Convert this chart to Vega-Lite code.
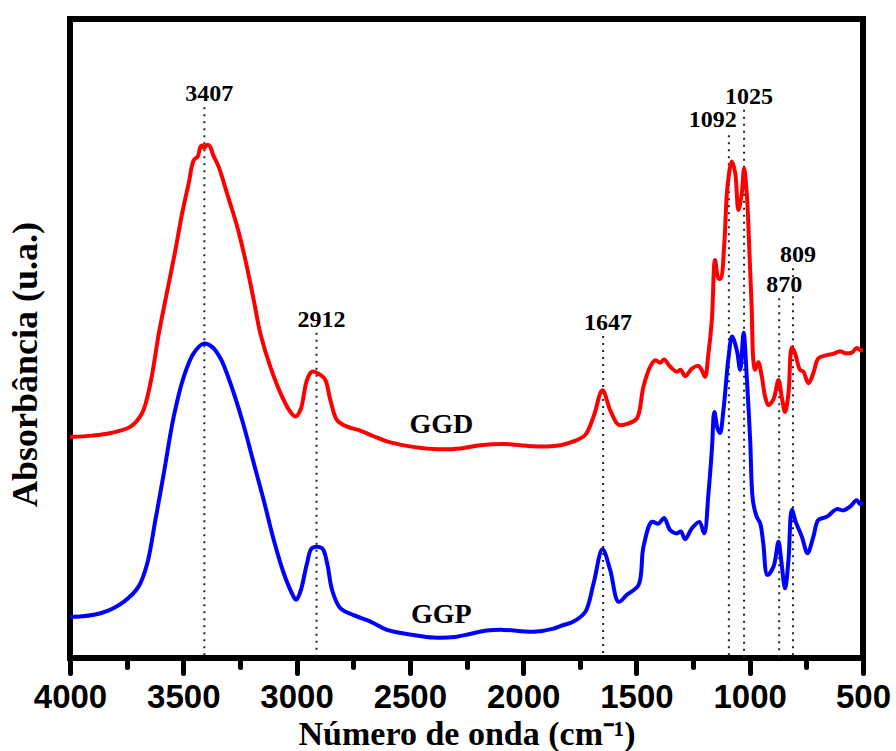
{
  "$schema": "https://vega.github.io/schema/vega-lite/v6.json",
  "width": 793,
  "height": 639,
  "autosize": {"type": "none"},
  "padding": {"left": 70, "top": 19, "right": 33, "bottom": 93},
  "background": "white",
  "config": {
    "view": {"stroke": "black", "strokeWidth": 6, "strokeJoin": "miter"},
    "axis": {
      "grid": false,
      "domain": false,
      "labelFont": "Liberation Sans",
      "labelFontWeight": "bold",
      "labelFontSize": 33,
      "labelColor": "black",
      "titleFont": "Liberation Serif",
      "titleFontWeight": "bold",
      "titleFontSize": 34,
      "titleColor": "black",
      "tickColor": "black",
      "tickWidth": 5,
      "tickCap": "round"
    }
  },
  "datasets": {
    "spectra": [
      {"s": "GGD", "wn": 4000, "a": 0.346}, {"s": "GGD", "wn": 3900, "a": 0.348}, {"s": "GGD", "wn": 3821, "a": 0.352}, {"s": "GGD", "wn": 3733, "a": 0.362},
      {"s": "GGD", "wn": 3682, "a": 0.383}, {"s": "GGD", "wn": 3645, "a": 0.430}, {"s": "GGD", "wn": 3608, "a": 0.508},
      {"s": "GGD", "wn": 3579, "a": 0.560}, {"s": "GGD", "wn": 3535, "a": 0.638}, {"s": "GGD", "wn": 3505, "a": 0.696},
      {"s": "GGD", "wn": 3476, "a": 0.743}, {"s": "GGD", "wn": 3454, "a": 0.779}, {"s": "GGD", "wn": 3436, "a": 0.785},
      {"s": "GGD", "wn": 3424, "a": 0.800}, {"s": "GGD", "wn": 3415, "a": 0.802}, {"s": "GGD", "wn": 3407, "a": 0.798},
      {"s": "GGD", "wn": 3395, "a": 0.803}, {"s": "GGD", "wn": 3383, "a": 0.801}, {"s": "GGD", "wn": 3368, "a": 0.787},
      {"s": "GGD", "wn": 3344, "a": 0.769}, {"s": "GGD", "wn": 3307, "a": 0.727}, {"s": "GGD", "wn": 3262, "a": 0.675},
      {"s": "GGD", "wn": 3226, "a": 0.623}, {"s": "GGD", "wn": 3189, "a": 0.560}, {"s": "GGD", "wn": 3160, "a": 0.508},
      {"s": "GGD", "wn": 3116, "a": 0.456}, {"s": "GGD", "wn": 3064, "a": 0.409}, {"s": "GGD", "wn": 3027, "a": 0.385},
      {"s": "GGD", "wn": 3005, "a": 0.378}, {"s": "GGD", "wn": 2983, "a": 0.388}, {"s": "GGD", "wn": 2954, "a": 0.435},
      {"s": "GGD", "wn": 2932, "a": 0.448}, {"s": "GGD", "wn": 2895, "a": 0.443}, {"s": "GGD", "wn": 2873, "a": 0.435},
      {"s": "GGD", "wn": 2851, "a": 0.404}, {"s": "GGD", "wn": 2821, "a": 0.372}, {"s": "GGD", "wn": 2777, "a": 0.362},
      {"s": "GGD", "wn": 2719, "a": 0.356}, {"s": "GGD", "wn": 2660, "a": 0.347}, {"s": "GGD", "wn": 2601, "a": 0.339},
      {"s": "GGD", "wn": 2513, "a": 0.332}, {"s": "GGD", "wn": 2395, "a": 0.327}, {"s": "GGD", "wn": 2277, "a": 0.328},
      {"s": "GGD", "wn": 2189, "a": 0.333}, {"s": "GGD", "wn": 2086, "a": 0.335}, {"s": "GGD", "wn": 1983, "a": 0.332},
      {"s": "GGD", "wn": 1895, "a": 0.331}, {"s": "GGD", "wn": 1836, "a": 0.333}, {"s": "GGD", "wn": 1778, "a": 0.339},
      {"s": "GGD", "wn": 1726, "a": 0.349}, {"s": "GGD", "wn": 1689, "a": 0.378}, {"s": "GGD", "wn": 1650, "a": 0.419},
      {"s": "GGD", "wn": 1616, "a": 0.388}, {"s": "GGD", "wn": 1579, "a": 0.365}, {"s": "GGD", "wn": 1535, "a": 0.367},
      {"s": "GGD", "wn": 1498, "a": 0.375}, {"s": "GGD", "wn": 1469, "a": 0.425}, {"s": "GGD", "wn": 1439, "a": 0.456},
      {"s": "GGD", "wn": 1417, "a": 0.466}, {"s": "GGD", "wn": 1395, "a": 0.462}, {"s": "GGD", "wn": 1378, "a": 0.467},
      {"s": "GGD", "wn": 1351, "a": 0.456}, {"s": "GGD", "wn": 1322, "a": 0.448}, {"s": "GGD", "wn": 1304, "a": 0.451},
      {"s": "GGD", "wn": 1285, "a": 0.441}, {"s": "GGD", "wn": 1255, "a": 0.453}, {"s": "GGD", "wn": 1226, "a": 0.457},
      {"s": "GGD", "wn": 1211, "a": 0.450}, {"s": "GGD", "wn": 1197, "a": 0.440}, {"s": "GGD", "wn": 1182, "a": 0.477},
      {"s": "GGD", "wn": 1167, "a": 0.529}, {"s": "GGD", "wn": 1153, "a": 0.623}, {"s": "GGD", "wn": 1138, "a": 0.594},
      {"s": "GGD", "wn": 1128, "a": 0.594}, {"s": "GGD", "wn": 1113, "a": 0.644}, {"s": "GGD", "wn": 1098, "a": 0.738},
      {"s": "GGD", "wn": 1079, "a": 0.777}, {"s": "GGD", "wn": 1064, "a": 0.759}, {"s": "GGD", "wn": 1050, "a": 0.701},
      {"s": "GGD", "wn": 1035, "a": 0.727}, {"s": "GGD", "wn": 1025, "a": 0.766}, {"s": "GGD", "wn": 1013, "a": 0.727},
      {"s": "GGD", "wn": 1001, "a": 0.633}, {"s": "GGD", "wn": 991, "a": 0.545}, {"s": "GGD", "wn": 984, "a": 0.466},
      {"s": "GGD", "wn": 976, "a": 0.451}, {"s": "GGD", "wn": 962, "a": 0.463}, {"s": "GGD", "wn": 947, "a": 0.441},
      {"s": "GGD", "wn": 932, "a": 0.409}, {"s": "GGD", "wn": 918, "a": 0.396}, {"s": "GGD", "wn": 895, "a": 0.405},
      {"s": "GGD", "wn": 873, "a": 0.435}, {"s": "GGD", "wn": 858, "a": 0.407}, {"s": "GGD", "wn": 844, "a": 0.385},
      {"s": "GGD", "wn": 829, "a": 0.414}, {"s": "GGD", "wn": 814, "a": 0.486}, {"s": "GGD", "wn": 800, "a": 0.477},
      {"s": "GGD", "wn": 778, "a": 0.451}, {"s": "GGD", "wn": 763, "a": 0.448}, {"s": "GGD", "wn": 741, "a": 0.430},
      {"s": "GGD", "wn": 719, "a": 0.446}, {"s": "GGD", "wn": 697, "a": 0.469}, {"s": "GGD", "wn": 660, "a": 0.474},
      {"s": "GGD", "wn": 631, "a": 0.476}, {"s": "GGD", "wn": 601, "a": 0.480}, {"s": "GGD", "wn": 579, "a": 0.477},
      {"s": "GGD", "wn": 550, "a": 0.478}, {"s": "GGD", "wn": 528, "a": 0.485}, {"s": "GGD", "wn": 513, "a": 0.482},
      {"s": "GGD", "wn": 500, "a": 0.482},

      {"s": "GGP", "wn": 4000, "a": 0.064}, {"s": "GGP", "wn": 3865, "a": 0.070}, {"s": "GGP", "wn": 3763, "a": 0.088},
      {"s": "GGP", "wn": 3697, "a": 0.112}, {"s": "GGP", "wn": 3659, "a": 0.148}, {"s": "GGP", "wn": 3623, "a": 0.216},
      {"s": "GGP", "wn": 3586, "a": 0.289}, {"s": "GGP", "wn": 3542, "a": 0.378}, {"s": "GGP", "wn": 3498, "a": 0.440},
      {"s": "GGP", "wn": 3454, "a": 0.477}, {"s": "GGP", "wn": 3410, "a": 0.492}, {"s": "GGP", "wn": 3373, "a": 0.487},
      {"s": "GGP", "wn": 3336, "a": 0.469}, {"s": "GGP", "wn": 3292, "a": 0.430}, {"s": "GGP", "wn": 3240, "a": 0.372},
      {"s": "GGP", "wn": 3189, "a": 0.305}, {"s": "GGP", "wn": 3145, "a": 0.247}, {"s": "GGP", "wn": 3101, "a": 0.185},
      {"s": "GGP", "wn": 3057, "a": 0.133}, {"s": "GGP", "wn": 3020, "a": 0.101}, {"s": "GGP", "wn": 3002, "a": 0.091},
      {"s": "GGP", "wn": 2983, "a": 0.104}, {"s": "GGP", "wn": 2954, "a": 0.148}, {"s": "GGP", "wn": 2932, "a": 0.172},
      {"s": "GGP", "wn": 2888, "a": 0.172}, {"s": "GGP", "wn": 2865, "a": 0.148}, {"s": "GGP", "wn": 2843, "a": 0.106},
      {"s": "GGP", "wn": 2807, "a": 0.078}, {"s": "GGP", "wn": 2748, "a": 0.067}, {"s": "GGP", "wn": 2674, "a": 0.057},
      {"s": "GGP", "wn": 2601, "a": 0.044}, {"s": "GGP", "wn": 2483, "a": 0.036}, {"s": "GGP", "wn": 2395, "a": 0.032},
      {"s": "GGP", "wn": 2300, "a": 0.033}, {"s": "GGP", "wn": 2230, "a": 0.038}, {"s": "GGP", "wn": 2160, "a": 0.043}, {"s": "GGP", "wn": 2086, "a": 0.044},
      {"s": "GGP", "wn": 1954, "a": 0.041}, {"s": "GGP", "wn": 1866, "a": 0.046}, {"s": "GGP", "wn": 1836, "a": 0.050},
      {"s": "GGP", "wn": 1778, "a": 0.057}, {"s": "GGP", "wn": 1726, "a": 0.072}, {"s": "GGP", "wn": 1689, "a": 0.117},
      {"s": "GGP", "wn": 1650, "a": 0.170}, {"s": "GGP", "wn": 1616, "a": 0.138}, {"s": "GGP", "wn": 1579, "a": 0.088},
      {"s": "GGP", "wn": 1542, "a": 0.099}, {"s": "GGP", "wn": 1491, "a": 0.114}, {"s": "GGP", "wn": 1469, "a": 0.174},
      {"s": "GGP", "wn": 1432, "a": 0.213}, {"s": "GGP", "wn": 1403, "a": 0.210}, {"s": "GGP", "wn": 1378, "a": 0.219},
      {"s": "GGP", "wn": 1351, "a": 0.200}, {"s": "GGP", "wn": 1322, "a": 0.195}, {"s": "GGP", "wn": 1304, "a": 0.198},
      {"s": "GGP", "wn": 1285, "a": 0.186}, {"s": "GGP", "wn": 1255, "a": 0.203}, {"s": "GGP", "wn": 1222, "a": 0.213},
      {"s": "GGP", "wn": 1201, "a": 0.195}, {"s": "GGP", "wn": 1182, "a": 0.258}, {"s": "GGP", "wn": 1167, "a": 0.326},
      {"s": "GGP", "wn": 1156, "a": 0.385}, {"s": "GGP", "wn": 1142, "a": 0.359}, {"s": "GGP", "wn": 1131, "a": 0.352},
      {"s": "GGP", "wn": 1116, "a": 0.388}, {"s": "GGP", "wn": 1094, "a": 0.469}, {"s": "GGP", "wn": 1078, "a": 0.503},
      {"s": "GGP", "wn": 1057, "a": 0.482}, {"s": "GGP", "wn": 1042, "a": 0.451}, {"s": "GGP", "wn": 1027, "a": 0.509},
      {"s": "GGP", "wn": 1013, "a": 0.440}, {"s": "GGP", "wn": 998, "a": 0.341}, {"s": "GGP", "wn": 986, "a": 0.247},
      {"s": "GGP", "wn": 969, "a": 0.221}, {"s": "GGP", "wn": 954, "a": 0.211}, {"s": "GGP", "wn": 940, "a": 0.179},
      {"s": "GGP", "wn": 922, "a": 0.130}, {"s": "GGP", "wn": 895, "a": 0.143}, {"s": "GGP", "wn": 873, "a": 0.182},
      {"s": "GGP", "wn": 861, "a": 0.153}, {"s": "GGP", "wn": 844, "a": 0.109}, {"s": "GGP", "wn": 829, "a": 0.153},
      {"s": "GGP", "wn": 814, "a": 0.232}, {"s": "GGP", "wn": 797, "a": 0.213}, {"s": "GGP", "wn": 770, "a": 0.190},
      {"s": "GGP", "wn": 745, "a": 0.164}, {"s": "GGP", "wn": 719, "a": 0.190}, {"s": "GGP", "wn": 697, "a": 0.216},
      {"s": "GGP", "wn": 660, "a": 0.221}, {"s": "GGP", "wn": 616, "a": 0.233}, {"s": "GGP", "wn": 587, "a": 0.231},
      {"s": "GGP", "wn": 557, "a": 0.237}, {"s": "GGP", "wn": 528, "a": 0.247}, {"s": "GGP", "wn": 513, "a": 0.241},
      {"s": "GGP", "wn": 500, "a": 0.243}
    ],
    "peaks": [
      {"wn": 3407, "top": 0.862, "label": "3407"},
      {"wn": 2912, "top": 0.509, "label": "2912"},
      {"wn": 1647, "top": 0.504, "label": "1647"},
      {"wn": 1092, "top": 0.818, "label": "1092"},
      {"wn": 1025, "top": 0.858, "label": "1025"},
      {"wn": 870, "top": 0.563, "label": "870"},
      {"wn": 809, "top": 0.610, "label": "809"}
    ],
    "names": [
      {"s": "GGD", "wn": 2361, "a": 0.352},
      {"s": "GGP", "wn": 2361, "a": 0.055}
    ]
  },
  "layer": [
    {
      "data": {"name": "peaks"},
      "mark": {"type": "rule", "strokeDash": [2, 5], "strokeWidth": 2, "color": "#222222"},
      "encoding": {
        "x": {"field": "wn", "type": "quantitative"},
        "y": {"field": "top", "type": "quantitative"},
        "y2": {"datum": 0}
      }
    },
    {
      "data": {"name": "spectra"},
      "mark": {"type": "line", "strokeWidth": 4, "interpolate": "catmull-rom", "strokeJoin": "round"},
      "encoding": {
        "x": {
          "field": "wn",
          "type": "quantitative",
          "scale": {"domain": [500, 4000], "reverse": true, "nice": false, "zero": false},
          "axis": {
            "title": "Número de onda (cm⁻¹)",
            "values": [4000, 3750, 3500, 3250, 3000, 2750, 2500, 2250, 2000, 1750, 1500, 1250, 1000, 750, 500],
            "format": "d",
            "labelExpr": "datum.value % 500 === 0 ? datum.label : ''",
            "tickSize": {"condition": {"test": "datum.value % 500 !== 0", "value": 9}, "value": 15},
            "labelPadding": 8,
            "labelFlush": false,
            "labelOverlap": false,
            "titleBaseline": "alphabetic",
            "titleY": 86
          }
        },
        "y": {
          "field": "a",
          "type": "quantitative",
          "scale": {"domain": [0, 1], "nice": false, "zero": false},
          "axis": {
            "title": "Absorbância (u.a.)",
            "labels": false,
            "ticks": false,
            "domain": false,
            "titleFontSize": 36,
            "titleAngle": -90,
            "titleBaseline": "alphabetic",
            "titleX": -34,
            "titleY": 345
          }
        },
        "color": {
          "field": "s",
          "type": "nominal",
          "scale": {"domain": ["GGD", "GGP"], "range": ["#ff0000", "#0000ff"]},
          "legend": null
        }
      }
    },
    {
      "data": {"name": "peaks"},
      "transform": [{"filter": "datum.label !== '1092'"}],
      "mark": {"type": "text", "font": "Liberation Serif", "fontWeight": "bold", "fontSize": 24, "align": "center", "baseline": "alphabetic", "dx": 5, "dy": -6, "color": "black"},
      "encoding": {
        "x": {"field": "wn", "type": "quantitative"},
        "y": {"field": "top", "type": "quantitative"},
        "text": {"field": "label"}
      }
    },
    {
      "data": {"name": "peaks"},
      "transform": [{"filter": "datum.label === '1092'"}],
      "mark": {"type": "text", "font": "Liberation Serif", "fontWeight": "bold", "fontSize": 24, "align": "right", "baseline": "alphabetic", "dx": 8, "dy": -8, "color": "black"},
      "encoding": {
        "x": {"field": "wn", "type": "quantitative"},
        "y": {"field": "top", "type": "quantitative"},
        "text": {"field": "label"}
      }
    },
    {
      "data": {"name": "names"},
      "mark": {"type": "text", "font": "Liberation Serif", "fontWeight": "bold", "fontSize": 28, "align": "center", "baseline": "alphabetic", "color": "black"},
      "encoding": {
        "x": {"field": "wn", "type": "quantitative"},
        "y": {"field": "a", "type": "quantitative"},
        "text": {"field": "s"}
      }
    }
  ]
}
